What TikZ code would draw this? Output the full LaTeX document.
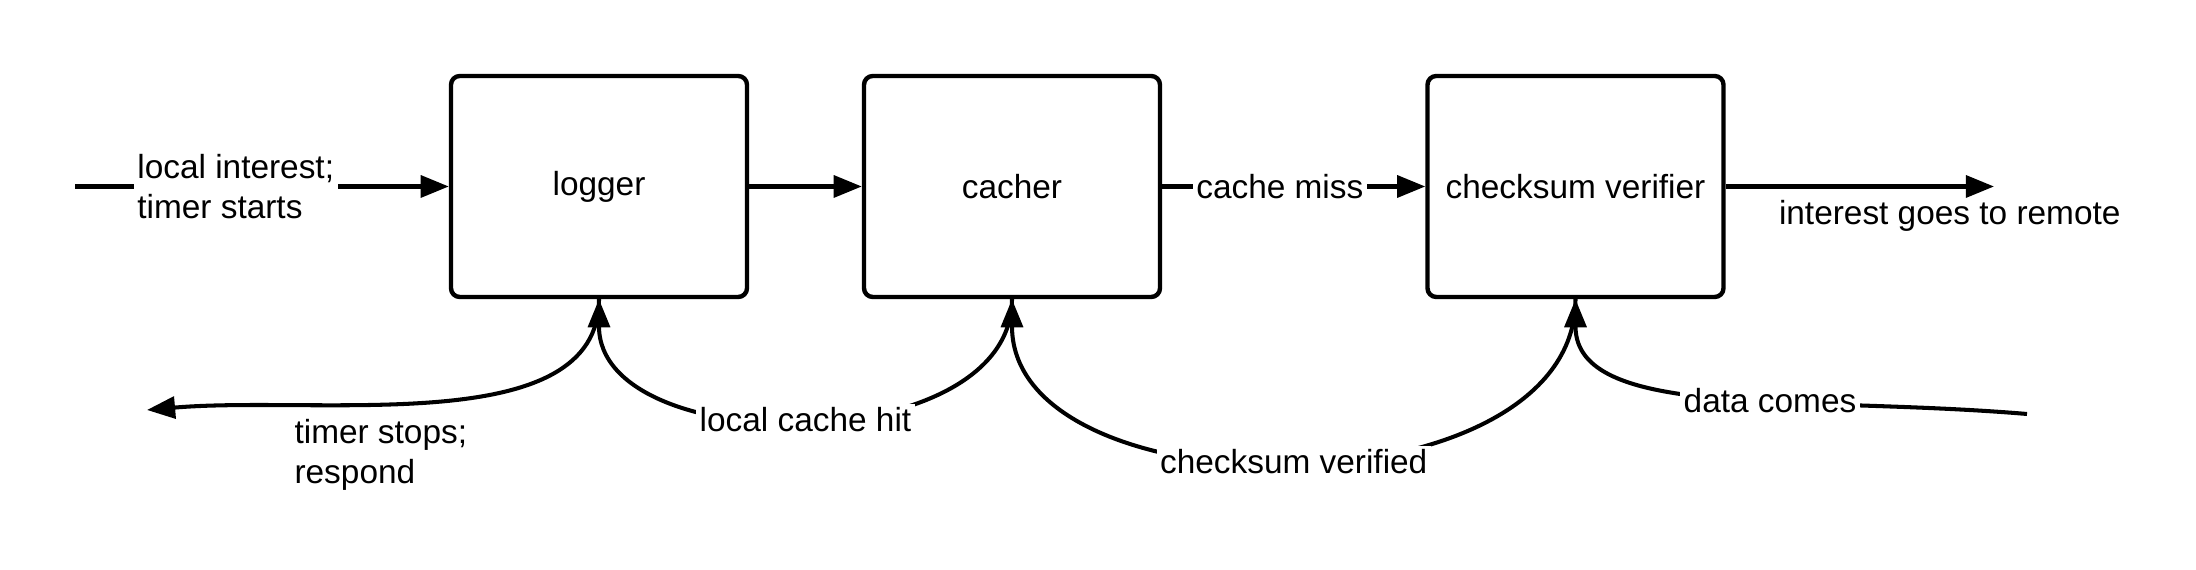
\documentclass[tikz,border=0pt]{standalone}
\usepackage{fontspec}
\setmainfont{Liberation Sans}
\usepackage{tikz}
\usetikzlibrary{arrows.meta,positioning}
\tikzset{
  blk/.style={draw, line width=1.25pt, rounded corners=2.5pt, align=center,
              minimum width=2.96cm, minimum height=2.21cm},
  flow/.style={line width=1.15pt, ->},
  lbl/.style={fill=white, inner sep=1pt, align=left},
}

\begin{document}
\begin{tikzpicture}[font=\fontsize{9.5}{11.4}\selectfont, >={Triangle[length=8pt,width=6.2pt]}]
    \useasboundingbox (0,0) rectangle (21.96,-5.70);
    \node[blk] (logr)  at (5.99,-1.865)   {logger};
    \node[blk] (cachr) at (10.12,-1.865)  {cacher};
    \node[blk] (cksum) at (15.755,-1.865) {checksum verifier};
    \coordinate (src)    at (0.75,-1.865);
    \coordinate (remote) at (19.94,-1.865);
    \coordinate (resp)   at (1.47,-4.10);
    \coordinate (data)   at (20.27,-4.14);
    \draw[flow] (src) -- node[lbl, pos=0.43] {local interest;\\timer starts} (logr);
    \draw[flow] (logr) -- (cachr);
    \draw[flow] (cachr) -- node[lbl, pos=0.447] {cache miss} (cksum);
    \draw[flow] (cksum) -- node[pos=0.835, below] {interest goes to remote} (remote);
    \draw[flow] (data) .. controls (18.0,-3.95) and +(0,-1.21) .. node[lbl, pos=0.4] {data comes} (cksum.south);
    \draw[flow] (cksum.south) .. controls +(0,-2.17) and +(0,-2.17) .. node[lbl, pos=0.5] {checksum verified} (cachr.south);
    \draw[flow] (cachr.south) .. controls +(0,-1.61) and +(0,-1.61) .. node[lbl, pos=0.5] {local cache hit} (logr.south);
    \draw[flow] (logr.south) .. controls +(0,-1.41) and (3.2,-3.95) .. node[pos=0.6, below, align=left] {timer stops;\\respond} (resp);
  \end{tikzpicture}
\end{document}
